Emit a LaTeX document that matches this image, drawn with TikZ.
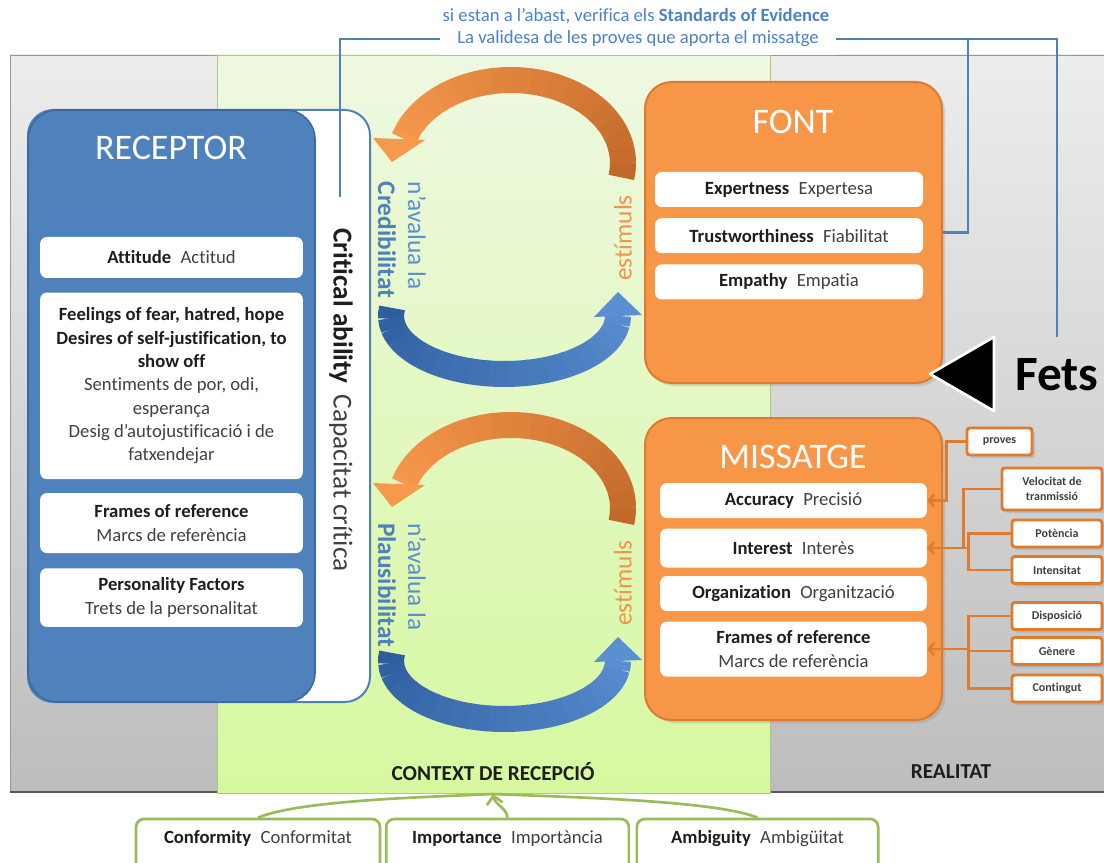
\documentclass[tikz,border=0pt]{standalone}
\usepackage{fontspec}
\setmainfont{Carlito}[Ligatures={TeX,NoCommon}]
\usetikzlibrary{positioning,arrows.meta,shadows}

\definecolor{recblue}{HTML}{4F81BD}
\definecolor{recedge}{HTML}{3A69A3}
\definecolor{orbox}{HTML}{F79646}
\definecolor{oredge}{HTML}{E07A2C}
\definecolor{ordark}{HTML}{C2682A}
\definecolor{orlight}{HTML}{F7994C}
\definecolor{bldark}{HTML}{2F5E9E}
\definecolor{bllight}{HTML}{5A8FD2}
\definecolor{gline}{HTML}{9BBB59}
\definecolor{greentop}{HTML}{EEF8E1}
\definecolor{greenbot}{HTML}{D7F8A0}
\definecolor{graytop}{HTML}{EDEDED}
\definecolor{graybot}{HTML}{BDBDBD}
\definecolor{txtgray}{HTML}{404040}
\definecolor{txtdark}{HTML}{1E1E1E}
\definecolor{topblue}{HTML}{4C82C8}

\newcommand\bilabel[2]{\textbf{#1}\enspace{\color{txtgray}#2}}

\tikzset{
  paneltext/.style={font=\fontsize{16}{19}\selectfont\bfseries, text=txtdark},
  toptext/.style={font=\fontsize{14}{17}\selectfont, text=topblue},
  title/.style={font=\fontsize{27}{32}\selectfont, text=white},
  inbox/.style={fill=white, rounded corners=5pt, align=center, inner sep=2pt,
    font=\fontsize{14}{17.5}\selectfont, text=txtdark},
  recitem/.style={inbox, minimum width=197pt},
  fontitem/.style={inbox, minimum width=201pt, minimum height=26.25pt},
  msgitem/.style={inbox, minimum width=200pt},
  bigbox/.style={fill=orbox, draw=oredge, line width=1.5pt, rounded corners=20pt,
    minimum width=222.75pt, drop shadow={opacity=0.25}},
  sbox/.style={draw=oredge, fill=white, line width=2.2pt, rounded corners=2pt,
    font=\fontsize{9}{11}\selectfont\bfseries, text=txtgray, align=center,
    inner sep=1pt, minimum height=20.25pt, minimum width=67.5pt,
    drop shadow={opacity=0.25}},
  gbox/.style={draw=gline, fill=white, line width=2pt, rounded corners=6pt,
    font=\fontsize{14}{17}\selectfont, text=txtdark, text height=10pt,
    text depth=30pt, inner ysep=8pt, anchor=base}
}

\begin{document}
\begin{tikzpicture}[x=0.75pt, y=-0.75pt, node distance=8pt,
  bline/.style={draw=recblue, line width=2pt},
  oline/.style={draw=oredge, line width=2pt},
  oarrow/.style={oline, -{Straight Barb[length=4pt, width=9pt]}},
  garrow/.style={draw=gline, line width=2pt}]

\useasboundingbox (0,0) rectangle (1104,863);
\clip (0,0) rectangle (1104,863);

% panels
\shade[top color=graytop, bottom color=graybot, draw=gray!80] (10,55) rectangle (1110,792);
\draw[black!65, line width=1.5pt] (10,792) -- (1110,792);
\shade[top color=greentop, bottom color=greenbot, draw=gline!80] (217,55) rectangle (770,793);
\node[paneltext] (ctx) at (493,772) {CONTEXT DE RECEPCIÓ};
\node[paneltext] (real) at (951,772) {REALITAT};
\coordinate (ctxin) at (493,794);

% top texts
\node[toptext, fill=white, inner xsep=13pt, minimum height=24pt] (valid) at (638,39) {La validesa de les proves que aporta el missatge};
\node[toptext] (sev) at (636,16) {si estan a l'abast, verifica els \textbf{Standards of Evidence}};

% receptor
\node[fill=white, draw=recblue, line width=1.5pt, rounded corners=19pt,
  minimum width=256.5pt, minimum height=444pt] (crit) at (199,406) {};
\node[fill=recblue, draw=recedge, line width=1.2pt, rounded corners=22pt,
  minimum width=215.25pt, minimum height=444pt] (rec) at (171.5,406) {};
\node[title] (rectitle) at (171,148) {RECEPTOR};
\node[recitem, minimum height=30.75pt] (att) at (171.5,257.5) {\bilabel{Attitude}{Actitud}};
\node[recitem, minimum height=140pt, below=10.5pt of att] (feel) {\textbf{Feelings of fear, hatred, hope}\\
  \textbf{Desires of self-justification, to}\\ \textbf{show off}\\
  {\color{txtgray}Sentiments de por, odi,}\\ {\color{txtgray}esperança}\\
  {\color{txtgray}Desig d'autojustificació i de}\\ {\color{txtgray}fatxendejar}};
\node[recitem, minimum height=45pt, below=10pt of feel] (rframes) {\textbf{Frames of reference}\\{\color{txtgray}Marcs de referència}};
\node[recitem, minimum height=44pt, below=11pt of rframes] (pers) {\textbf{Personality Factors}\\{\color{txtgray}Trets de la personalitat}};
\node[font=\fontsize{20.5}{24}\selectfont, text=txtdark, rotate=-90] (critlbl) at (341,400)
  {\textbf{Critical ability}\hspace{8pt}{\color{txtgray}Capacitat crítica}};

% the two cycles
\foreach \dy/\crd in {0/Credibilitat, 345/Plausibilitat}{
  \foreach \a in {10,0,...,-160}{
    \pgfmathsetmacro\b{max(\a-10.5,-163)}
    \pgfmathsetmacro\p{(10-\a)/1.7}
    \draw[line width=19.5pt, draw=orlight!\p!ordark]
      ({511+112*cos(\a)},{163+\dy+83*sin(\a)}) arc[start angle=\a, end angle=\b, x radius=112, y radius=83];
  }
  \fill[orlight] (373,138+\dy) -- (425,140+\dy) -- (392,162+\dy) -- cycle;
  \foreach \a in {188,178,...,8}{
    \pgfmathsetmacro\b{max(\a-10.5,0)}
    \pgfmathsetmacro\p{(188-\a)/1.88}
    \draw[line width=19.5pt, draw=bllight!\p!bldark]
      ({504.5+113.5*cos(\a)},{316+\dy+58*sin(\a)}) arc[start angle=\a, end angle=\b, x radius=113.5, y radius=58];
  }
  \fill[bllight] (594,317+\dy) -- (642,315+\dy) -- (618,292+\dy) -- cycle;
  \node[font=\fontsize{19}{22.5}\selectfont, text=bllight, rotate=-90, align=left] (aval\dy) at (402,240+\dy)
    {n'avalua la\\\textbf{\color{recblue}\crd}};
  \node[font=\fontsize{19}{22.5}\selectfont, text=orlight!90!ordark, rotate=90] (stim\dy) at (623,238+\dy) {estímuls};
}

% font
\node[bigbox, minimum height=225.75pt] (font) at (793.5,232.5) {};
\node[title] (fonttitle) at (793,122) {FONT};
\node[fontitem] (expert) at (789,189.5) {\bilabel{Expertness}{Expertesa}};
\node[fontitem, below=8pt of expert] (trust) {\bilabel{Trustworthiness}{Fiabilitat}};
\node[fontitem, below=8pt of trust] (emp) {\bilabel{Empathy}{Empatia}};

% missatge
\node[bigbox, minimum height=226.5pt] (msg) at (793.5,569) {};
\node[title] (msgtitle) at (793,457) {MISSATGE};
\node[msgitem, minimum height=26.25pt] (acc) at (793.5,500.5) {\bilabel{Accuracy}{Precisió}};
\node[msgitem, minimum height=29.25pt, below=7.5pt of acc] (inter) {\bilabel{Interest}{Interès}};
\node[msgitem, minimum height=26.25pt, below=6pt of inter] (org) {\bilabel{Organization}{Organització}};
\node[msgitem, minimum height=41.25pt, below=7.5pt of org] (mframes) {\textbf{Frames of reference}\\{\color{txtgray}Marcs de referència}};

% fets
\fill[black, draw=white, line width=2pt, line join=round] (930,374) -- (994,337) -- (994,411) -- cycle;
\node[font=\fontsize{37}{40}\selectfont\bfseries, inner sep=0pt] (fets) at (1057,375) {Fets};

% standards of evidence
\coordinate (critTop) at (340,197);
\coordinate (branch) at (968,39);
\draw[bline] (valid.west) -| (critTop);
\draw[bline] (valid.east) -| ([yshift=16.5pt]fets.north);
\draw[bline] (font.east) -| (branch);

% side boxes
\node[sbox, minimum width=48.75pt] (proves) at (999.5,441.5) {proves};
\node[sbox, minimum width=75pt, minimum height=31.5pt] (velo) at (1052,489) {Velocitat de\\tranmissió};
\node[sbox] (pot) at (1057,533.5) {Potència};
\node[sbox] (inten) at (1057,570) {Intensitat};
\node[sbox] (disp) at (1057,616) {Disposició};
\node[sbox] (gen) at (1057,651) {Gènere};
\node[sbox] (cont) at (1057,688.5) {Contingut};

\draw[oarrow] (proves.west) -- ++(-19,0) |- (acc.east);
\draw[oline] (velo.west) -- ++(-37,0) |- (inter.east);
\path (pot.west) ++(-42,0) coordinate (ibr);
\draw[oline] (pot.west) -- (ibr) |- (inten.west);
\draw[oarrow] (ibr |- inter.east) -- (inter.east);
\path (disp.west) ++(-42,0) coordinate (fbr);
\draw[oline] (disp.west) -- (fbr) |- (cont.west);
\draw[oline] (gen.west) -- (fbr |- gen.west);
\draw[oarrow] (fbr |- mframes.east) -- (mframes.east);

% context factors
\node[gbox, minimum width=183pt] (conf) at (258,843) {\bilabel{Conformity}{Conformitat}};
\node[gbox, minimum width=182pt] (imp) at (507.5,843) {\bilabel{Importance}{Importància}};
\node[gbox, minimum width=181pt] (amb) at (757.5,843) {\bilabel{Ambiguity}{Ambigüitat}};
\draw[garrow] (conf.north) .. controls (300,800) and (430,797) .. (ctxin);
\draw[garrow] (amb.north) .. controls (715,800) and (560,797) .. (ctxin);
\draw[garrow, -{Straight Barb[length=6pt, width=12pt]}] (imp.north) .. controls (507,808) and (495,805) .. (ctxin);
\end{tikzpicture}
\end{document}
